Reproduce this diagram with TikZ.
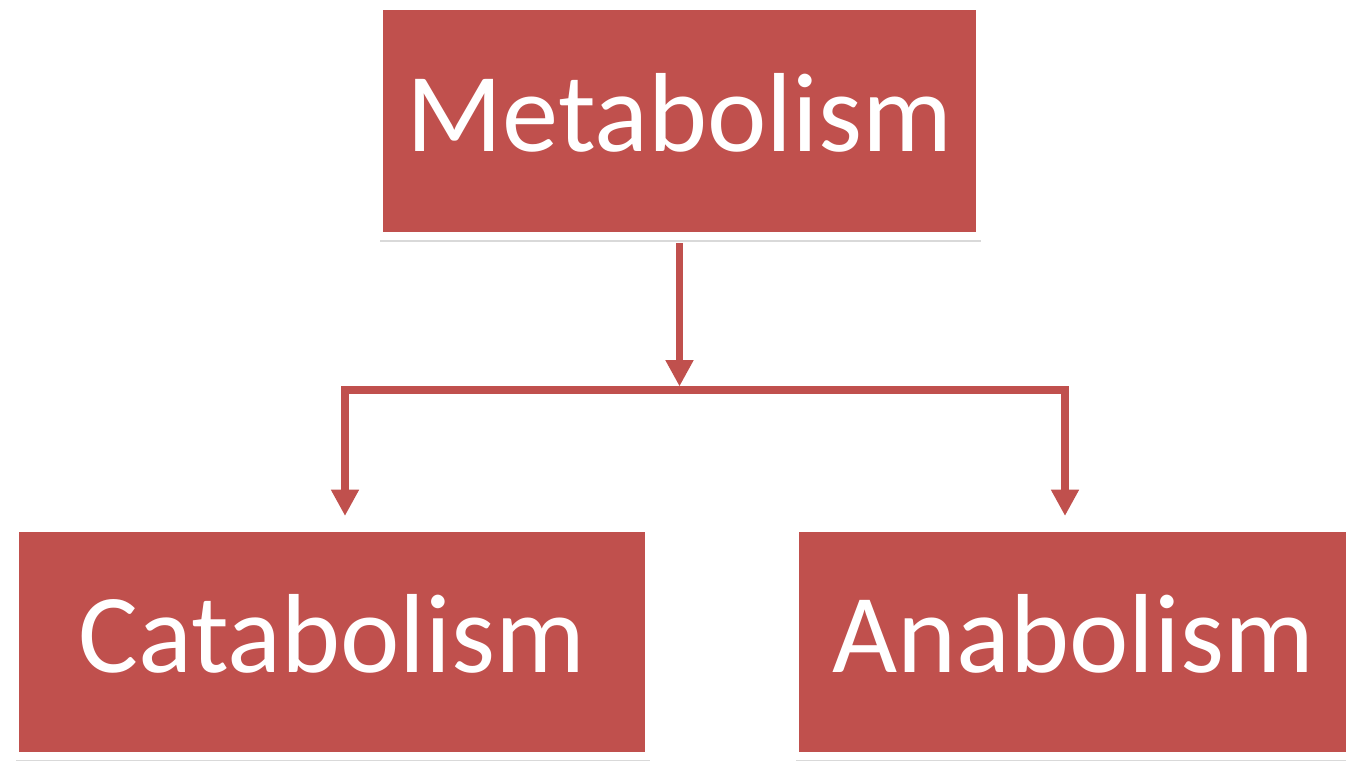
\documentclass[tikz,border=0pt]{standalone}
\usepackage{fontspec}
\setmainfont{Carlito}
\usepackage{tikz}
\usetikzlibrary{arrows.meta}
\usetikzlibrary{calc}
\usetikzlibrary{shadows}
\definecolor{boxred}{HTML}{C0504D}

\begin{document}
\begin{tikzpicture}[
        font=\fontsize{64}{70}\selectfont, % Tamaño de la fuente para las cajas
        termbox/.style={draw=white, line width=4pt, fill=boxred, text=white,
        text height=50pt, text depth=15pt, inner sep=0pt,
        drop shadow={opacity=0.3, shadow xshift=0.8pt, shadow yshift=-3.5pt}}, % Estilo para las cajas
        link/.style={boxred, line width=4pt}, % Estilo para las líneas
        linkarrow/.style={link, -{Triangle[length=15pt, width=15pt]}} % Estilo para las flechas
    ]
        % --- Marco de la figura ---
        \useasboundingbox (0,0) rectangle (26.92,15.2);

        % --- Cajas ---
        \node[termbox, minimum width=12.02cm, minimum height=4.6cm] (metab) at (13.59,12.78) {Metabolism};
        \node[termbox, minimum width=12.68cm, minimum height=4.56cm] (catab) at (6.64,2.36) {Catabolism};
        \node[termbox, minimum width=11.14cm, minimum height=4.56cm] (anab) at (21.47,2.36) {Anabolism};

        % --- Puntos de ramificación ---
        \coordinate (split) at (13.59,7.4);
        \coordinate (catin) at (6.9,4.88);
        \coordinate (anin) at (21.3,4.88);

        % --- Conectores ---
        \draw[linkarrow, shorten <=2pt, shorten >=2pt] (metab.south) -- (split);
        \draw[linkarrow] (split) -| (catin);
        \draw[linkarrow] (split) -| (anin);

    \end{tikzpicture}
\end{document}
